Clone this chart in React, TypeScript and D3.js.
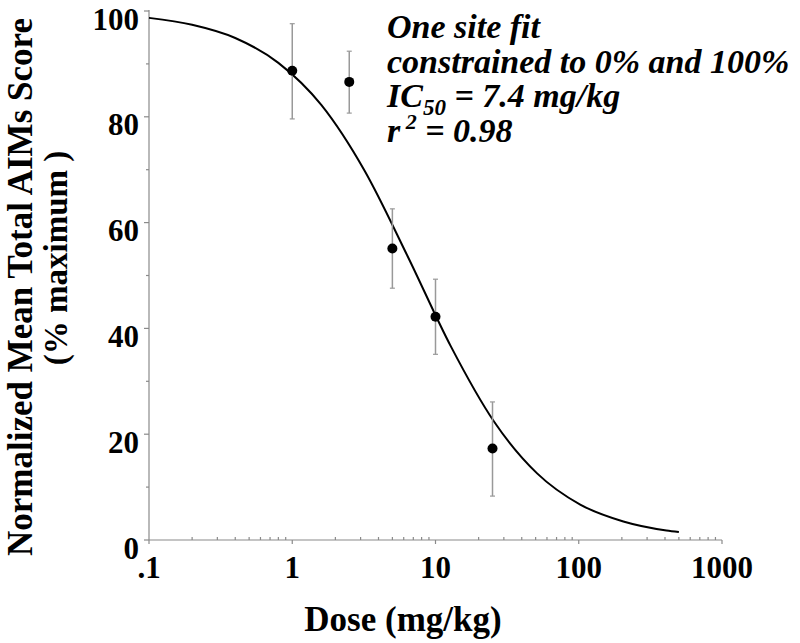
import React from "react";
import * as d3 from "d3";

const doses = [1, 2.5, 5, 10, 25];
const means = [88.7, 86.6, 55.1, 42.2, 17.3];
const errLow = [79.6, 80.7, 47.6, 35.1, 8.3];
const errHigh = [97.6, 92.4, 62.6, 49.3, 26.1];

const fitDoses = [0.1, 0.2, 0.4, 0.8, 1.6, 3.2, 6.4, 12.8, 25.6, 51.2, 102.4, 204.8, 409.6, 500];
const fitValues = [98.7, 97.4, 94.9, 90.2, 82.2, 69.8, 53.6, 36.6, 22.4, 12.6, 6.7, 3.5, 1.8, 1.5];

const xTickValues = [0.1, 1, 10, 100, 1000];
const xTickLabels = [".1", "1", "10", "100", "1000"];
const yTickValues = [0, 20, 40, 60, 80, 100];

const FONT = "'Liberation Serif', 'Times New Roman', serif";

export default function App() {
  const x = d3.scaleLog().domain([0.1, 1000]).range([149, 722]);
  const y = d3.scaleLinear().domain([0, 100]).range([540, 11]);
  const line = d3
    .line<number>()
    .x((_, i) => x(fitDoses[i]))
    .y((d) => y(d))
    .curve(d3.curveMonotoneX);

  const minorX: number[] = [];
  for (let e = -1; e < 3; e++) {
    for (let k = 2; k <= 9; k++) minorX.push(k * Math.pow(10, e));
  }
  const minorY = d3.range(10, 100, 20);
  const axisColor = "#8a8a8a";

  return (
    <svg width={800} height={643} style={{ display: "block", position: "absolute", left: 0, top: 0 }}>
      <rect width={800} height={643} fill="#fff" />
      {/* axes */}
      <line x1={149} x2={149} y1={y(100) - 1} y2={540} stroke={axisColor} strokeWidth={1.2} />
      <line x1={149} x2={722} y1={540} y2={540} stroke={axisColor} strokeWidth={1.2} />
      {yTickValues.map((v) => (
        <g key={"yt" + v}>
          <line x1={144} x2={149} y1={y(v)} y2={y(v)} stroke={axisColor} strokeWidth={1.2} />
          <text x={139} y={y(v) + 18.5} textAnchor="end" fontFamily={FONT} fontWeight="bold" fontSize={31}>
            {v}
          </text>
        </g>
      ))}
      {minorY.map((v) => (
        <line key={"ym" + v} x1={146} x2={149} y1={y(v)} y2={y(v)} stroke={axisColor} strokeWidth={1.2} />
      ))}
      {xTickValues.map((v, i) => (
        <g key={"xt" + v}>
          <line x1={x(v)} x2={x(v)} y1={540} y2={544} stroke={axisColor} strokeWidth={1.2} />
          <text x={x(v)} y={578} textAnchor="middle" fontFamily={FONT} fontWeight="bold" fontSize={31}>
            {xTickLabels[i]}
          </text>
        </g>
      ))}
      {minorX.map((v) => (
        <line key={"xm" + v} x1={x(v)} x2={x(v)} y1={537} y2={540} stroke={axisColor} strokeWidth={1.2} />
      ))}
      {/* fit curve */}
      <path d={line(fitValues) || ""} fill="none" stroke="#000" strokeWidth={2} />
      {/* error bars and points */}
      {doses.map((d, i) => (
        <g key={"p" + d}>
          <line x1={x(d)} x2={x(d)} y1={y(errLow[i])} y2={y(errHigh[i])} stroke="#999" strokeWidth={1.5} />
          <line x1={x(d) - 2.5} x2={x(d) + 2.5} y1={y(errLow[i])} y2={y(errLow[i])} stroke="#999" strokeWidth={1.2} />
          <line x1={x(d) - 2.5} x2={x(d) + 2.5} y1={y(errHigh[i])} y2={y(errHigh[i])} stroke="#999" strokeWidth={1.2} />
          <circle cx={x(d)} cy={y(means[i])} r={5} fill="#000" />
        </g>
      ))}
      {/* annotation */}
      <g fontFamily={FONT} fontWeight="bold" fontStyle="italic" fontSize={34}>
        <text x={387} y={38}>One site fit</text>
        <text x={387} y={73}>constrained to 0% and 100%</text>
        <text x={387} y={107}>
          IC
          <tspan fontSize={23} dy={8}>50</tspan>
          <tspan dy={-8}> = 7.4 mg/kg</tspan>
        </text>
        <text x={387} y={142}>
          r
          <tspan fontSize={22} dy={-13}> 2</tspan>
          <tspan dy={13}> = 0.98</tspan>
        </text>
      </g>
      {/* axis titles */}
      <text x={403} y={631} textAnchor="middle" fontFamily={FONT} fontWeight="bold" fontSize={35}>
        Dose (mg/kg)
      </text>
      <text
        transform="translate(32,287) rotate(-90)"
        textAnchor="middle"
        fontFamily={FONT}
        fontWeight="bold"
        fontSize={35}
      >
        Normalized Mean Total AIMs Score
      </text>
      <text
        transform="translate(67,258) rotate(-90)"
        textAnchor="middle"
        fontFamily={FONT}
        fontWeight="bold"
        fontSize={33}
      >
        (% maximum )
      </text>
    </svg>
  );
}
